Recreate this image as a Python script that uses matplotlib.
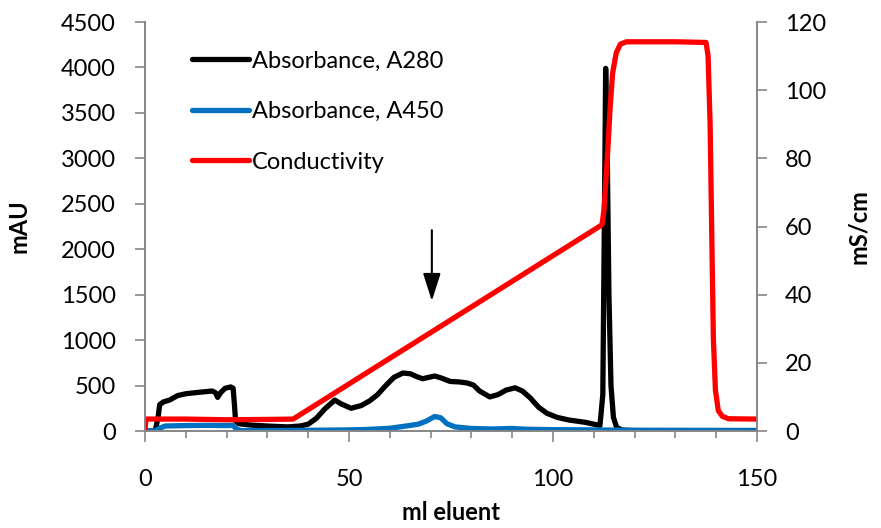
import matplotlib
matplotlib.use("Agg")
import matplotlib.pyplot as plt
from matplotlib.ticker import MultipleLocator

plt.rcParams['font.family'] = ['Lato', 'DejaVu Sans']

# A280 trace (ml eluent, mAU)
a280_ml = [0, 2.5, 3.2, 3.6, 4.5, 6, 8, 10, 13, 16.5, 17.3, 17.8, 18.5, 19.6, 21, 21.6, 21.9, 22.2,
           23, 26, 30, 35, 38, 40, 42, 44, 46.5, 48, 50.5, 53, 55, 57, 59, 61, 63.2, 65, 66.5,
           68, 69.5, 71, 72.5, 74.8, 77, 79, 80.5, 82, 84.5, 86.5, 88.5, 90.7, 92.5, 94.4, 96.5,
           98.5, 101, 104, 108, 111.5, 112.2, 112.6, 112.9, 113.3, 113.7, 114.2, 114.8, 115.6,
           117, 120, 150]
a280_mau = [0, 0, 150, 290, 320, 340, 390, 410, 425, 440, 420, 370, 420, 470, 485, 470, 300, 110,
            80, 65, 55, 45, 55, 75, 140, 240, 340, 300, 250, 280, 330, 400, 500, 590, 638, 630, 600,
            575, 590, 605, 585, 545, 540, 528, 505, 440, 375, 400, 450, 475, 440, 365, 260,
            195, 150, 120, 95, 60, 400, 2400, 3990, 3000, 1500, 500, 150, 40,
            10, 5, 5]

# A450 trace (ml eluent, mAU)
a450_ml = [0, 2.5, 3.5, 5, 10, 15, 20, 21.5, 22.5, 23.5, 30, 40, 50, 55, 60, 64, 67, 69, 71,
           72.5, 74, 76, 80, 85, 90, 93, 100, 110, 120, 150]
a450_mau = [0, 0, 30, 55, 60, 62, 60, 62, 20, 5, 5, 8, 12, 18, 30, 55, 75, 110, 160,
            145, 80, 45, 28, 22, 28, 20, 15, 12, 8, 5]

# Conductivity trace (ml eluent, mS/cm)
cond_ml = [0, 0.2, 10, 20, 30, 36.3, 112, 112.5, 113.3, 114, 114.6, 115.5, 116.5, 118, 130,
           137.5, 138, 138.5, 139, 139.3, 139.8, 140.5, 141.5, 143, 150]
cond_ms = [0, 3.5, 3.5, 3.3, 3.4, 3.5, 60.5, 65, 80, 95, 105, 111, 113.5, 114.2, 114.2,
           114, 110, 90, 50, 27, 12, 6, 4.3, 3.6, 3.5]

arrow_ml = 70.3
arrow_from = 2240
arrow_to = 1400

grey = '#868686'
fs = 17

fig = plt.figure(figsize=(8.81, 5.28), dpi=100)
ax = fig.add_axes([0.1646, 0.1837, 0.6947, 0.7746])
ax2 = ax.twinx()

style = dict(lw=3.8, solid_capstyle='round', solid_joinstyle='round')
l1, = ax.plot(a280_ml, a280_mau, color='black', label='Absorbance, A280', **style)
l2, = ax.plot(a450_ml, a450_mau, color='#0070C0', label='Absorbance, A450', **style)
l3, = ax2.plot(cond_ml, cond_ms, color='#FF0000', label='Conductivity', **style)

ax.annotate('', xy=(arrow_ml, arrow_to), xytext=(arrow_ml, arrow_from),
            arrowprops=dict(arrowstyle='-|>,head_length=0.85,head_width=0.27',
                            mutation_scale=20, color='black', lw=1.5))

ax.set_xlim(0, 150)
ax.set_ylim(0, 4500)
ax2.set_ylim(0, 120)
ax.xaxis.set_major_locator(MultipleLocator(50))
ax.xaxis.set_minor_locator(MultipleLocator(10))
ax.yaxis.set_major_locator(MultipleLocator(500))
ax2.yaxis.set_major_locator(MultipleLocator(20))

for a in (ax, ax2):
    for side in a.spines:
        a.spines[side].set_color(grey)
        a.spines[side].set_linewidth(1.2)
    a.spines['top'].set_visible(False)
ax.tick_params(axis='x', which='major', length=8, width=1.2, color=grey, labelsize=fs, pad=19)
ax.tick_params(axis='x', which='minor', length=5, width=1.2, color=grey)
ax.tick_params(axis='y', length=7, width=1.2, color=grey, labelsize=fs, pad=14)
ax2.tick_params(axis='y', length=7, width=1.2, color=grey, labelsize=fs, pad=13)

ax.set_xlabel('ml eluent', fontsize=fs, fontweight='bold', labelpad=8)
ax.set_ylabel('mAU', fontsize=fs, fontweight='bold', labelpad=22)
ax2.set_ylabel('mS/cm', fontsize=fs, fontweight='bold', labelpad=15)

ax2.legend(handles=[l1, l2, l3], loc='upper left', bbox_to_anchor=(0.077, 0.93),
           frameon=False, fontsize=fs, handlelength=2.4, handletextpad=0.15,
           labelspacing=1.25, borderaxespad=0, borderpad=0)

fig.savefig('out.png', dpi=100)
